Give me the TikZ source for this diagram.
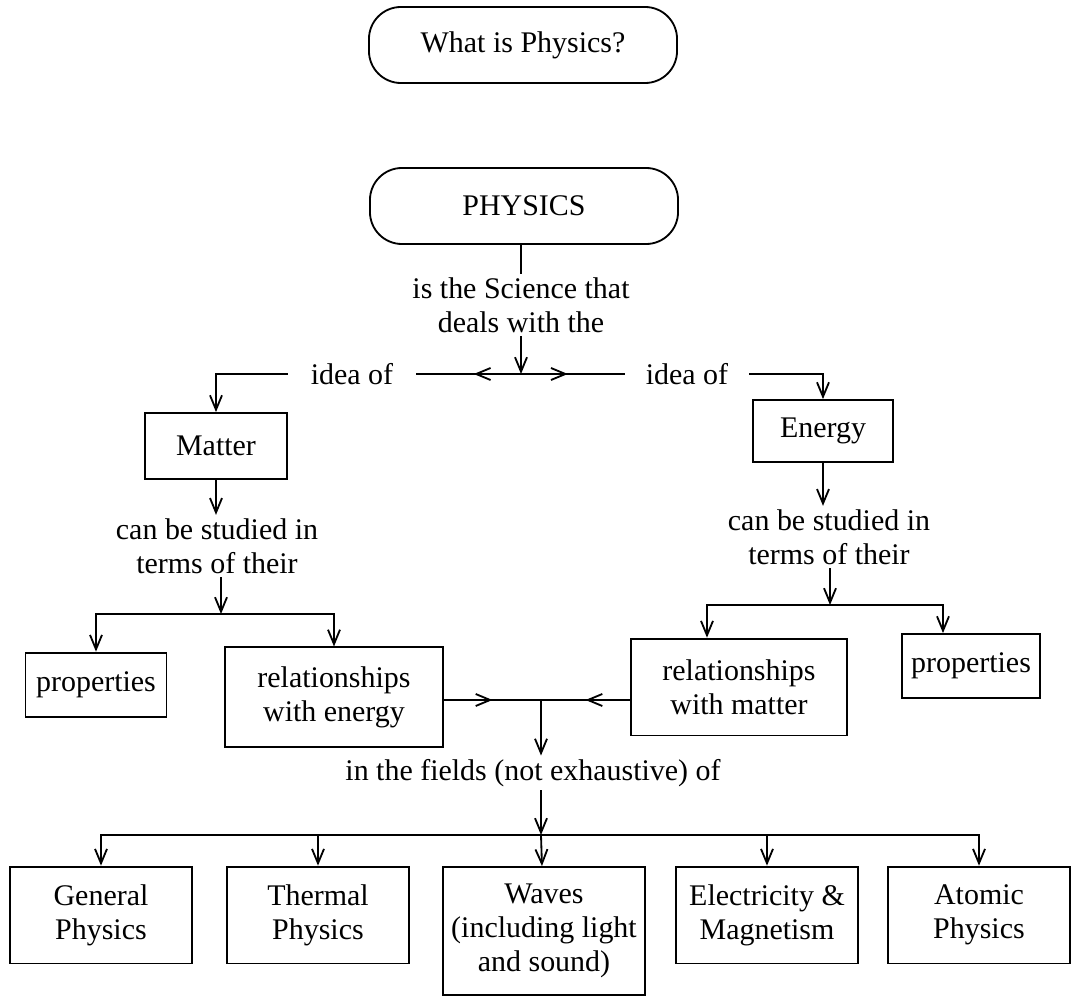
\documentclass[tikz,border=0pt]{standalone}
\usepackage{fontspec}
\setmainfont{Liberation Serif}
\usetikzlibrary{positioning,arrows.meta,decorations.markings}

\tikzset{
  >={Straight Barb[length=3.6mm,width=3mm]},
  pill/.style={draw, rounded corners=0.8cm, minimum width=7.7cm, minimum height=1.9cm},
  box/.style={draw, align=center, inner sep=2pt},
  field/.style={box, minimum width=4.55cm, minimum height=2.42cm},
  words/.style={align=center, inner sep=2pt},
  midarrow/.style={decoration={markings, mark=at position #1 with {\arrow{>}}}, postaction={decorate}},
  midarrow/.default=0.5,
}

\begin{document}
\begin{tikzpicture}[x=0.025cm, y=-0.025cm, line width=1.3pt, font=\fontsize{21.3}{24}\selectfont]

        \useasboundingbox (0,0) rectangle (1079,997);

        \coordinate (j0) at (521,374);
        \coordinate (jL) at (221,614);
        \coordinate (jR) at (830,605);
        \coordinate (jM) at (541,700);
        \coordinate (jB) at (541,835);

        \node[pill] (what) at (523,45) {What is Physics?};
        \node[pill] (phys) at (524,206) {PHYSICS};
        \node[words] (sci) at (521,305) {is the Science that\\deals with the};

        \node[words, inner xsep=0.55cm] (ideaL) at (352,374) {idea of};
        \node[words, inner xsep=0.5cm] (ideaR) at (687,374) {idea of};

        \node[box, minimum width=3.55cm, minimum height=1.65cm] (matter) at (216,446) {Matter};
        \node[box, minimum width=3.5cm, minimum height=1.55cm] (energy) at (823,431) {Energy};

        \node[words] (studyL) at (217,546) {can be studied in\\terms of their};
        \node[words] (studyR) at (829,537) {can be studied in\\terms of their};

        \node[box, minimum width=3.52cm, minimum height=1.62cm] (propL) at (96,685) {properties};
        \node[box, minimum width=5.45cm, minimum height=2.48cm] (relE) at (334,697) {relationships\\with energy};
        \node[box, minimum width=5.4cm, minimum height=2.42cm] (relM) at (739,687) {relationships\\with matter};
        \node[box, minimum width=3.45cm, minimum height=1.6cm] (propR) at (971,666) {properties};

        \node[words] (fields) at (533,773) {in the fields (not exhaustive) of};

        \node[field] (gen) at (101,915) {General\\Physics};
        \node[field] (therm) at (318,915) {Thermal\\Physics};
        \node[box, minimum width=5.05cm, minimum height=3.2cm] (waves) at (544,931) {Waves\\(including light\\and sound)};
        \node[field] (elec) at (767,915) {Electricity \&\\Magnetism};
        \node[field] (atom) at (979,915) {Atomic\\Physics};

        % what physics deals with
        \draw (phys.south -| sci) -- (sci);
        \draw[->] (sci) -- (j0);
        \draw[midarrow=0.45] (j0) -- (ideaL);
        \draw[midarrow=0.45] (j0) -- (ideaR);
        \draw[->] (ideaL) -| (matter);
        \draw[->] (ideaR) -| (energy);

        % matter side
        \draw[->] (matter.south) -- (matter.south |- studyL.north);
        \draw[->] (studyL.south -| jL) -- (jL);
        \draw[->] (jL) -| (propL);
        \draw[->] (jL) -| (relE);

        % energy side
        \draw[->] (energy.south) -- (energy.south |- studyR.north);
        \draw[->] (studyR.south -| jR) -- (jR);
        \draw[->] (jR) -| ([xshift=-0.8cm]relM.north);
        \draw[->] (jR) -| ([xshift=-0.7cm]propR.north);

        % fields
        \draw[midarrow] (relE.east |- jM) -- (jM);
        \draw[midarrow] (relM.west |- jM) -- (jM);
        \draw[->] (jM) -- (jM |- fields.north);
        \draw[->] (jM |- fields.south) -- (jB);
        \draw[->] (jB) -- (waves);
        \draw[->] (jB) -| (gen);
        \draw[->] (jB) -| (atom);
        \draw[->] (jB -| therm) -- (therm);
        \draw[->] (jB -| elec) -- (elec);

    \end{tikzpicture}
\end{document}
